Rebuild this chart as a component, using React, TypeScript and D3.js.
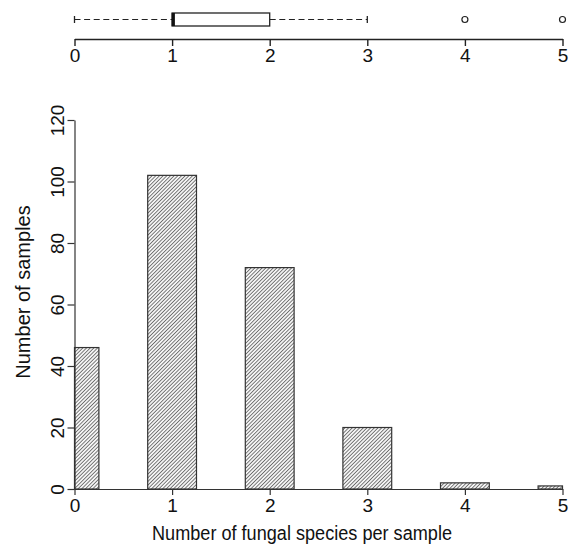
import React, { useRef, useEffect } from 'react';
import * as d3 from 'd3';

// number of fungal species found per sample, and how many samples had that count
const speciesPerSample = [0, 1, 2, 3, 4, 5];
const sampleCounts = [46, 102, 72, 20, 2, 1];
const yTicks = [0, 20, 40, 60, 80, 100, 120];

const W = 570;
const H = 545;

const App = () => {
  const svgRef = useRef<SVGSVGElement>(null);

  useEffect(() => {
    const svg = d3.select(svgRef.current);
    svg.selectAll('*').remove();

    const font = 'Liberation Sans, Arial, sans-serif';

    const x = d3.scaleLinear().domain([0, 5]).range([74.5, 562.5]);
    const y = d3.scaleLinear().domain([0, 120]).range([489, 120]);

    // hatch pattern for the bars
    const defs = svg.append('defs');
    const pat = defs.append('pattern')
      .attr('id', 'hatch')
      .attr('patternUnits', 'userSpaceOnUse')
      .attr('width', 2.6)
      .attr('height', 2.6)
      .attr('patternTransform', 'rotate(45)');
    pat.append('rect').attr('width', 2.6).attr('height', 2.6).attr('fill', '#f4f4f4');
    pat.append('line')
      .attr('x1', 0).attr('y1', 0).attr('x2', 0).attr('y2', 2.6)
      .attr('stroke', '#4a4a4a').attr('stroke-width', 1.4);

    // ---- boxplot on top ----
    const raw: number[] = [];
    speciesPerSample.forEach((v, i) => { for (let k = 0; k < sampleCounts[i]; k++) raw.push(v); });
    raw.sort(d3.ascending);
    const q1 = d3.quantile(raw, 0.25)!;
    const med = d3.quantile(raw, 0.5)!;
    const q3 = d3.quantile(raw, 0.75)!;
    const iqr = q3 - q1;
    const lo = d3.min(raw.filter(d => d >= q1 - 1.5 * iqr))!;
    const hi = d3.max(raw.filter(d => d <= q3 + 1.5 * iqr))!;
    const outliers = Array.from(new Set(raw.filter(d => d < lo || d > hi)));

    const by = 19.5;
    const bp = svg.append('g');
    bp.append('line').attr('x1', x(lo)).attr('x2', x(q1)).attr('y1', by).attr('y2', by)
      .attr('stroke', '#222').attr('stroke-width', 1.2).attr('stroke-dasharray', '6,3.6');
    bp.append('line').attr('x1', x(q3)).attr('x2', x(hi)).attr('y1', by).attr('y2', by)
      .attr('stroke', '#222').attr('stroke-width', 1.2).attr('stroke-dasharray', '6,3.6');
    [lo, hi].forEach(v => {
      bp.append('line').attr('x1', x(v)).attr('x2', x(v)).attr('y1', by - 3.5).attr('y2', by + 3.5)
        .attr('stroke', '#222').attr('stroke-width', 1.3);
    });
    bp.append('rect').attr('x', x(q1)).attr('y', 13).attr('width', x(q3) - x(q1)).attr('height', 13)
      .attr('fill', '#fff').attr('stroke', '#222').attr('stroke-width', 1.3);
    bp.append('line').attr('x1', x(med) + 1.2).attr('x2', x(med) + 1.2).attr('y1', 13).attr('y2', 26)
      .attr('stroke', '#111').attr('stroke-width', 3.2);
    bp.selectAll('circle').data(outliers).enter().append('circle')
      .attr('cx', d => x(d)).attr('cy', by).attr('r', 3)
      .attr('fill', 'none').attr('stroke', '#222').attr('stroke-width', 1.2);

    const topAxis = svg.append('g').attr('transform', 'translate(0,39)')
      .call(d3.axisBottom(x).tickValues(speciesPerSample).tickSize(7).tickSizeOuter(0).tickFormat(d3.format('d')));
    topAxis.selectAll('path, line').attr('stroke', '#222').attr('stroke-width', 1.4);
    topAxis.selectAll('text').attr('font-family', font).attr('font-size', 19).attr('fill', '#111')
      .attr('dy', '0.71em').attr('y', 10);

    // ---- histogram ----
    const g = svg.append('g');
    g.selectAll('.bar')
      .data(speciesPerSample)
      .enter()
      .append('rect')
      .attr('class', 'bar')
      .attr('x', d => x(Math.max(0, d - 0.25)))
      .attr('y', (d, i) => y(sampleCounts[i]))
      .attr('width', d => x(Math.min(5, d + 0.25)) - x(Math.max(0, d - 0.25)))
      .attr('height', (d, i) => y(0) - y(sampleCounts[i]))
      .attr('fill', 'url(#hatch)')
      .attr('stroke', '#333')
      .attr('stroke-width', 1.2);

    const xAxis = svg.append('g').attr('transform', `translate(0,${y(0)})`)
      .call(d3.axisBottom(x).tickValues(speciesPerSample).tickSize(6).tickSizeOuter(0).tickFormat(d3.format('d')));
    xAxis.selectAll('path, line').attr('stroke', '#333').attr('stroke-width', 1.2);
    xAxis.selectAll('text').attr('font-family', font).attr('font-size', 19).attr('fill', '#111')
      .attr('y', 10);

    const yAxis = svg.append('g').attr('transform', `translate(${x(0)},0)`)
      .call(d3.axisLeft(y).tickValues(yTicks).tickSize(7).tickSizeOuter(0));
    yAxis.selectAll('path, line').attr('stroke', '#333').attr('stroke-width', 1.2);
    yAxis.selectAll('text')
      .attr('font-family', font).attr('font-size', 19).attr('fill', '#111')
      .attr('x', null).attr('dy', null)
      .attr('text-anchor', 'middle')
      .attr('transform', 'translate(-11,0) rotate(-90)');

    svg.append('text')
      .attr('x', 302).attr('y', 540)
      .attr('text-anchor', 'middle')
      .attr('font-family', font).attr('font-size', 20).attr('fill', '#111')
      .attr('textLength', 300).attr('lengthAdjust', 'spacingAndGlyphs')
      .text('Number of fungal species per sample');

    svg.append('text')
      .attr('transform', 'translate(30,292) rotate(-90)')
      .attr('text-anchor', 'middle')
      .attr('font-family', font).attr('font-size', 20).attr('fill', '#111')
      .text('Number of samples');
  }, []);

  return (
    <div style={{ position: 'absolute', left: 0, top: 0 }}>
      <svg ref={svgRef} width={W} height={H} style={{ display: 'block', background: '#fff' }}></svg>
    </div>
  );
};

export default App;
